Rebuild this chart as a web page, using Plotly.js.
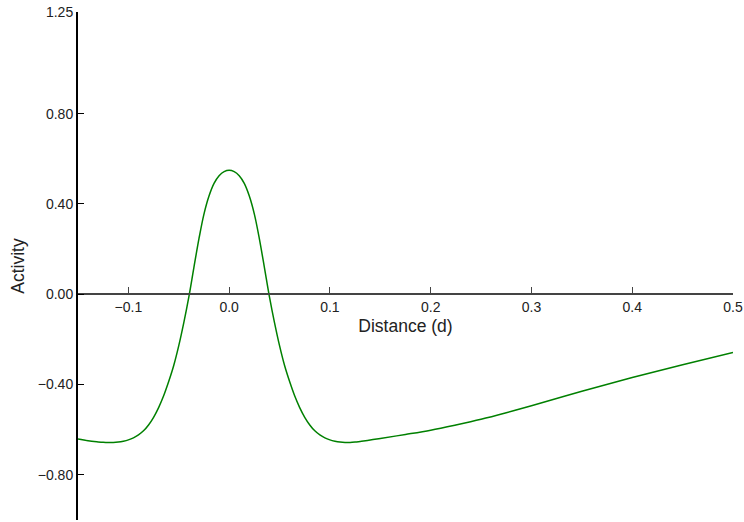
<!DOCTYPE html>
<html>
<head>
<meta charset="utf-8">
<script src="https://cdn.plot.ly/plotly-3.0.1.min.js"></script>
<style>html,body{margin:0;padding:0;background:#fff;}#chart{width:744px;height:522px;}</style>
</head>
<body>
<div id="chart"></div>
<script>
// Data
const distance = [-0.15, -0.14, -0.13, -0.125, -0.12, -0.115, -0.11, -0.105, -0.10, -0.095, -0.09, -0.085, -0.08, -0.075, -0.07, -0.065, -0.06, -0.055, -0.05, -0.045, -0.04, -0.035, -0.03, -0.025, -0.02, -0.015, -0.01, -0.005, 0.0,
  0.005, 0.01, 0.015, 0.02, 0.025, 0.03, 0.035, 0.04, 0.045, 0.05, 0.055, 0.06, 0.065, 0.07, 0.075, 0.08, 0.085, 0.09, 0.095, 0.10, 0.105, 0.11, 0.115, 0.12, 0.125, 0.13, 0.14, 0.15, 0.175, 0.20, 0.225, 0.25, 0.275, 0.30, 0.35, 0.40, 0.45, 0.50];
const activity = [-0.641, -0.649, -0.654, -0.656, -0.657, -0.657, -0.655, -0.651, -0.645, -0.636, -0.623, -0.605, -0.579, -0.545, -0.502, -0.450, -0.387, -0.316, -0.228, -0.126, -0.012, 0.118, 0.245, 0.355, 0.435, 0.491, 0.525, 0.543, 0.549,
  0.543, 0.525, 0.491, 0.435, 0.355, 0.245, 0.118, -0.012, -0.126, -0.228, -0.316, -0.387, -0.450, -0.502, -0.545, -0.579, -0.605, -0.623, -0.636, -0.645, -0.651, -0.655, -0.657, -0.657, -0.655, -0.652, -0.646, -0.639, -0.621, -0.602, -0.579, -0.554, -0.525, -0.494, -0.430, -0.369, -0.312, -0.258];
const yTickVals = [-0.80, -0.40, 0.00, 0.40, 0.80, 1.25];
const yTickText = ["\u22120.80", "\u22120.40", "0.00", "0.40", "0.80", "1.25"];
const xTickVals = [-0.1, 0.0, 0.1, 0.2, 0.3, 0.4, 0.5];
const xTickText = ["\u22120.1", "0.0", "0.1", "0.2", "0.3", "0.4", "0.5"];

const yMin = -1.0, yMax = 1.25;

const trace = {
  x: distance, y: activity, type: 'scatter', mode: 'lines',
  line: {color: '#008000', width: 1.5, shape: 'spline', smoothing: 1},
  hoverinfo: 'skip'
};

const layout = {
  width: 744, height: 522,
  margin: {l: 78, r: 11, t: 12, b: 2},
  paper_bgcolor: '#fff', plot_bgcolor: '#fff',
  showlegend: false,
  font: {family: '"Liberation Sans", Arial, sans-serif', color: '#222', size: 14},
  xaxis: {
    range: [-0.15, 0.5],
    anchor: 'free',
    position: (0 - yMin) / (yMax - yMin),
    showgrid: false, zeroline: false,
    showline: true, linecolor: '#444', linewidth: 2,
    ticks: 'inside', ticklen: 6, tickwidth: 1, tickcolor: '#444',
    tickmode: 'array', tickvals: xTickVals, ticktext: xTickText,
    tickfont: {size: 14, color: '#222'},
    title: {text: 'Distance (d)', font: {size: 17.5, color: '#222'}, standoff: 5}
  },
  yaxis: {
    range: [yMin, yMax],
    showgrid: false, zeroline: false,
    showline: true, linecolor: '#000', linewidth: 2,
    ticks: 'inside', ticklen: 6, tickwidth: 1, tickcolor: '#000',
    tickmode: 'array', tickvals: yTickVals, ticktext: yTickText,
    tickfont: {size: 14, color: '#222'},
    title: {text: 'Activity', font: {size: 17.5, color: '#222'}, standoff: 9}
  }
};

Plotly.newPlot('chart', [trace], layout, {displayModeBar: false, staticPlot: true});
</script>
</body>
</html>
